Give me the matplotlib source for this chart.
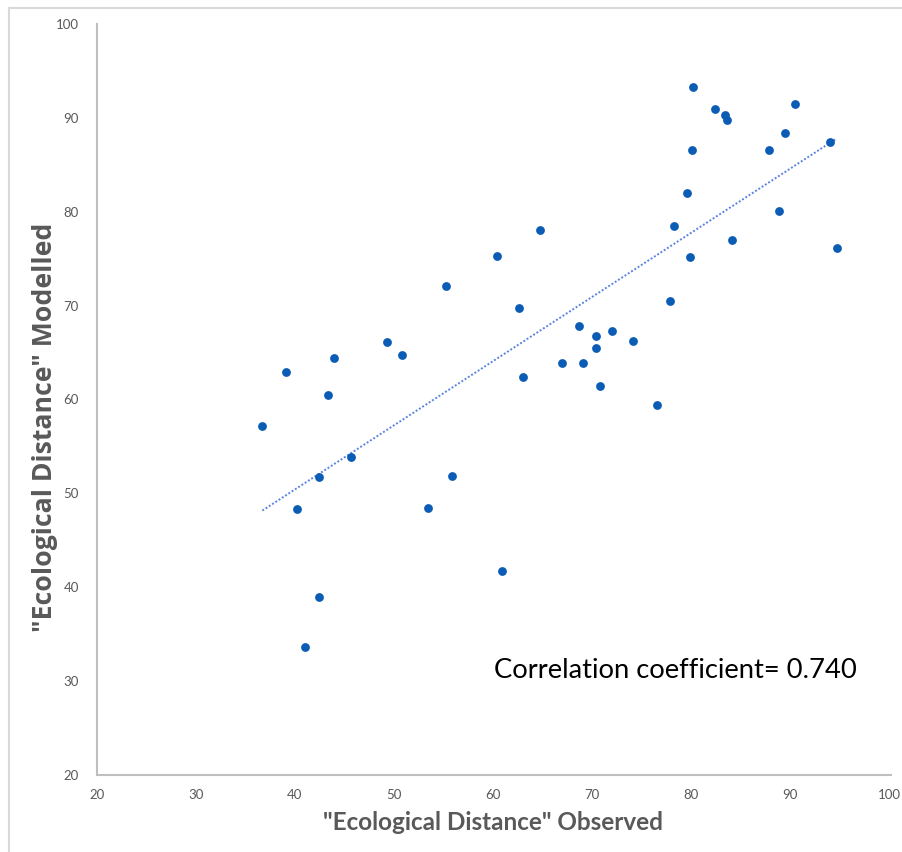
import matplotlib
matplotlib.use("Agg")
import matplotlib.pyplot as plt
from matplotlib.lines import Line2D
import numpy as np

observed = [36.7, 39.1, 43.3, 43.9, 42.4, 40.2, 42.4, 41.0, 45.7, 49.3,
            50.8, 53.4, 55.9, 55.3, 60.9, 60.4, 64.7, 62.6, 63.0, 67.0,
            69.1, 68.7, 70.4, 70.4, 72.0, 70.8, 74.1, 76.6, 77.9, 78.3,
            79.6, 79.9, 80.1, 80.2, 82.4, 83.4, 83.6, 84.1, 87.9, 88.9,
            89.5, 90.5, 94.0, 94.7]
modelled = [57.2, 62.9, 60.5, 64.4, 51.7, 48.3, 39.0, 33.6, 53.9, 66.1,
            64.7, 48.4, 51.8, 72.1, 41.7, 75.3, 78.1, 69.7, 62.4, 63.9,
            63.9, 67.8, 66.8, 65.5, 67.3, 61.4, 66.2, 59.4, 70.5, 78.5,
            82.0, 75.2, 86.6, 93.3, 90.9, 90.3, 89.8, 77.0, 86.6, 80.1,
            88.4, 91.5, 87.4, 76.1]
ticks = [20, 30, 40, 50, 60, 70, 80, 90, 100]
x_label = '"Ecological Distance" Observed'
y_label = '"Ecological Distance" Modelled'
annotation = "Correlation coefficient= 0.740"

W, H = 903, 852
fig = plt.figure(figsize=(W / 100, H / 100), dpi=100)
ax = fig.add_axes([97 / W, 1 - 775 / H, (891 - 97) / W, (775 - 24) / H])

x = np.array(observed)
y = np.array(modelled)
ax.scatter(x, y, s=40, color="#0b5cb5", zorder=3, linewidths=0)
slope, intercept = np.polyfit(x, y, 1)
xs = np.array([x.min(), x.max()])
ax.plot(xs, slope * xs + intercept, linestyle=(0, (1, 1)), color="#5b84e0",
        lw=1.4, zorder=2)

ax.set_xlim(20, 100.2)
ax.set_ylim(20, 100)
ax.set_xticks(ticks)
ax.set_yticks(ticks)
for s in ["top", "right"]:
    ax.spines[s].set_visible(False)
for s in ["left", "bottom"]:
    ax.spines[s].set_color("#bfbfbf")
    ax.spines[s].set_linewidth(1.5)
ax.tick_params(axis="both", length=0, labelsize=9.5, labelcolor="#595959")
ax.tick_params(axis="y", pad=13)
ax.tick_params(axis="x", pad=10)
for lab in ax.get_xticklabels() + ax.get_yticklabels():
    lab.set_family("Lato")

fig.text(493 / W, 1 - 822 / H, x_label, ha="center", va="center",
         fontsize=17.5, fontweight="bold", color="#595959", family="Lato")
fig.text(45 / W, 1 - 427 / H, y_label, ha="center", va="center",
         rotation=90, fontsize=19.2, fontweight="bold", color="#595959",
         family="Open Sans")
fig.text(494 / W, 1 - 670 / H, annotation, ha="left", va="center",
         fontsize=19.7, color="black", family="Lato")

# outer frame
fig.add_artist(Line2D([9 / W, 1], [1 - 8 / H, 1 - 8 / H], color="#d9d9d9",
                      lw=1.5, transform=fig.transFigure))
fig.add_artist(Line2D([9 / W, 9 / W], [0, 1 - 8 / H], color="#d9d9d9",
                      lw=1.5, transform=fig.transFigure))

fig.savefig("out.png", dpi=100)
